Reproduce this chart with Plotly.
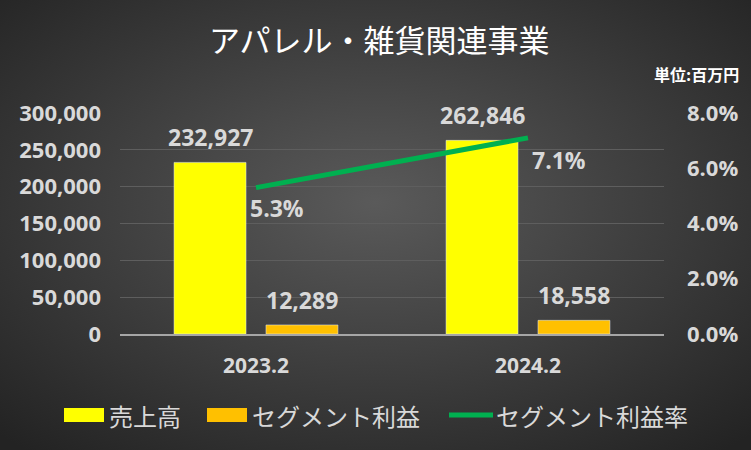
import base64
import plotly.graph_objects as go

# data
periods = ["2023.2", "2024.2"]
sales = [232927, 262846]
segment_profit = [12289, 18558]
profit_rate = [0.053, 0.071]

left_ticks = [0, 50000, 100000, 150000, 200000, 250000, 300000]
right_ticks = [0, 0.02, 0.04, 0.06, 0.08]

series_names = ["売上高", "セグメント利益", "セグメント利益率"]
series_colors = ["#ffff00", "#ffc000", "#00b050"]

JP = "Noto Sans CJK JP"
NUM = "Open Sans"
TEXT = "#d9d9d9"

# plot area in pixels
L, R, T, B = 120, 87, 113, 116
PW, PH = 751 - L - R, 450 - T - B

# radial gradient backdrop, drawn as an svg image behind the plot
svg = """<svg xmlns='http://www.w3.org/2000/svg' width='751' height='450'>
<defs><radialGradient id='g' cx='50%' cy='45%' r='72%'>
<stop offset='0%' stop-color='#5a5a5a'/><stop offset='100%' stop-color='#232323'/>
</radialGradient></defs>
<rect width='751' height='450' fill='url(#g)'/></svg>"""
bg_src = "data:image/svg+xml;base64," + base64.b64encode(svg.encode()).decode()

fig = go.Figure()

fig.add_trace(go.Bar(x=periods, y=sales, name=series_names[0], marker_color=series_colors[0]))
fig.add_trace(go.Bar(x=periods, y=segment_profit, name=series_names[1], marker_color=series_colors[1]))
fig.add_trace(go.Scatter(
    x=periods, y=profit_rate, name=series_names[2],
    yaxis="y2", mode="lines",
    line=dict(color=series_colors[2], width=5),
    cliponaxis=False,
))

label_font = dict(family=NUM, size=23, color=TEXT, weight="bold")
annotations = []
# bar value labels (category axis -> annotation x is the category index)
for vals, xs in ((sales, -46), (segment_profit, 46)):
    for i, v in enumerate(vals):
        annotations.append(dict(x=i, y=v, text=f"{v:,}", xshift=xs, yshift=7,
                                xanchor="center", yanchor="bottom", showarrow=False,
                                font=label_font))
# line value labels
for i, (v, dx, dy) in enumerate(zip(profit_rate, (-8, 2), (-2, -4))):
    annotations.append(dict(x=i, y=v, yref="y2", text=f"{v:.1%}", xshift=dx, yshift=dy,
                            xanchor="left", yanchor="top", showarrow=False, font=label_font))

# unit note
annotations.append(dict(text="単位:百万円", xref="paper", yref="paper",
                        x=1 + 77 / PW, y=1 + 39 / PH, xanchor="right", yanchor="middle",
                        showarrow=False, font=dict(family=JP, size=16, color="#ffffff", weight="bold")))

# custom legend (wide keys like the original)
shapes = []
legend_y = -(415 - (T + PH)) / PH
key_x = [64, 207, 449]
for i, (name, color) in enumerate(zip(series_names, series_colors)):
    x0 = (key_x[i] - L) / PW
    x1 = (key_x[i] + 40 - L) / PW
    if i < 2:
        shapes.append(dict(type="rect", xref="paper", yref="paper", x0=x0, x1=x1,
                           y0=legend_y - 7 / PH, y1=legend_y + 7 / PH,
                           fillcolor=color, line=dict(width=0)))
    else:
        shapes.append(dict(type="line", xref="paper", yref="paper", x0=x0, x1=x1 + 4 / PW,
                           y0=legend_y, y1=legend_y, line=dict(color=color, width=5)))
    annotations.append(dict(text=name, xref="paper", yref="paper", x=x1 + (3 if i < 2 else 5) / PW,
                            y=legend_y, xanchor="left", yanchor="middle", showarrow=False,
                            font=dict(family=JP, size=24, color=TEXT)))

fig.update_layout(
    width=751, height=450,
    paper_bgcolor="#333333", plot_bgcolor="rgba(0,0,0,0)",
    margin=dict(l=L, r=R, t=T, b=B),
    font=dict(family=JP, color=TEXT, size=18),
    barmode="group", bargap=0.324, bargroupgap=0.217,
    showlegend=False,
    images=[dict(source=bg_src, xref="paper", yref="paper", x=-L / PW, y=1 + T / PH,
                 sizex=751 / PW, sizey=450 / PH, xanchor="left", yanchor="top",
                 sizing="stretch", layer="below")],
    title=dict(text="アパレル・雑貨関連事業", x=0.505, xanchor="center", y=1 - 41 / 450, yanchor="middle",
               font=dict(size=31, color="#ffffff", family=JP)),
    annotations=annotations,
    shapes=shapes,
    xaxis=dict(type="category", showgrid=False, showline=True, linecolor="#a6a6a6", linewidth=2,
               ticks="", ticklabelstandoff=12,
               tickfont=dict(family=NUM, size=21, color=TEXT, weight="bold")),
    yaxis=dict(range=[0, 300000], tickvals=left_ticks, tickformat=",",
               showgrid=True, gridcolor="#5e5e5e", gridwidth=1, zeroline=False,
               ticklabelstandoff=18,
               tickfont=dict(family=NUM, size=22, color=TEXT, weight="bold")),
    yaxis2=dict(range=[0, 0.08], tickvals=right_ticks, tickformat=".1%",
                overlaying="y", side="right", showgrid=False, zeroline=False,
                ticklabelstandoff=22,
                tickfont=dict(family=NUM, size=22, color=TEXT, weight="bold")),
)

fig.write_html("out.html", config={"displayModeBar": False},
               post_script="document.body.style.margin='0';")
